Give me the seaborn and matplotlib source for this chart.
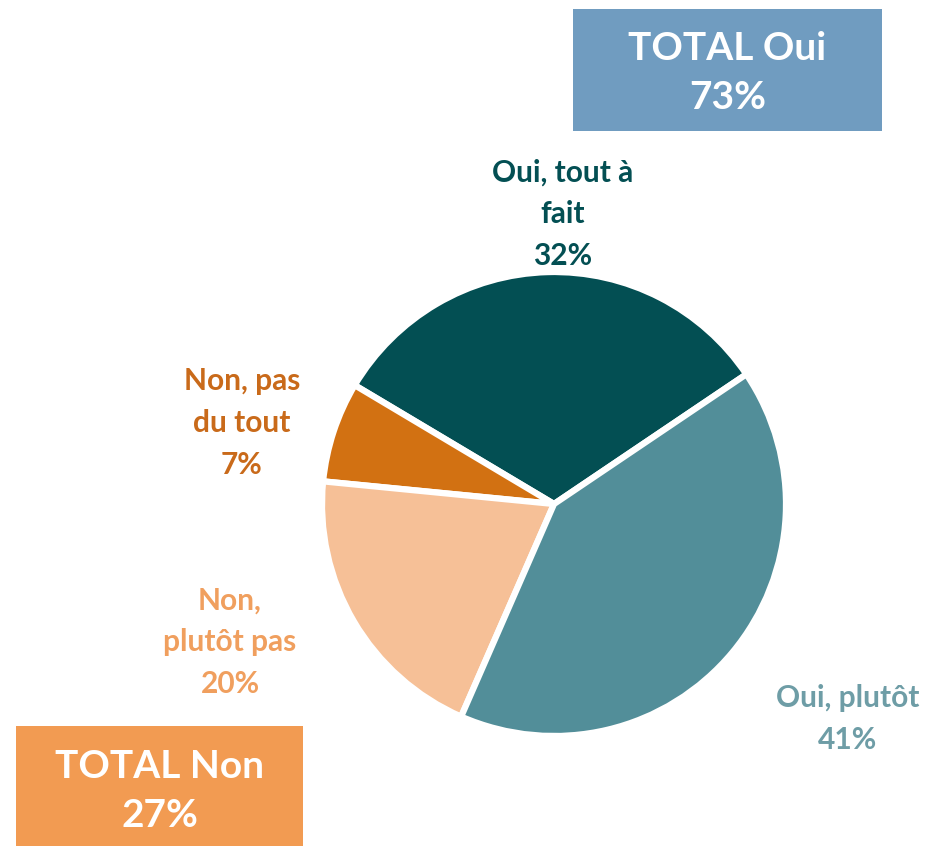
import matplotlib
matplotlib.use("Agg")
import matplotlib.pyplot as plt
from matplotlib.patches import Rectangle
import seaborn as sns

# slices in drawing order (counter-clockwise from the upper right)
categories = ["Oui, tout à\nfait", "Non, pas\ndu tout", "Non,\nplutôt pas", "Oui, plutôt"]
shares = [32, 7, 20, 41]
slice_colors = ["#034F53", "#D27112", "#F6C097", "#528E99"]
label_colors = ["#034F53", "#C96A1A", "#F09F5E", "#6E9DA6"]

totals_labels = ["TOTAL Oui", "TOTAL Non"]
totals_values = [73, 27]
totals_colors = ["#709CC0", "#F29B52"]

W, H = 932, 846

sns.set_theme(style="white")
plt.rcParams["font.family"] = ["Lato", "DejaVu Sans"]

fig = plt.figure(figsize=(W / 100, H / 100), dpi=100)
ax = fig.add_axes([0, 0, 1, 1])

cx, cy, r = 554, H - 504, 232
ax.pie(
    shares,
    colors=slice_colors,
    startangle=34,
    counterclock=True,
    center=(cx, cy),
    radius=r,
    explode=[0, 0, 0, 0.025],
    wedgeprops=dict(edgecolor="white", linewidth=4.5),
    frame=True,
)
ax.set_xlim(0, W)
ax.set_ylim(0, H)
ax.set_aspect("equal")
ax.axis("off")

# label positions (pixel coords from top)
label_pos = [(563, 214), (242, 423), (230, 642), (848, 719)]
for cat, val, col, (x, y) in zip(categories, shares, label_colors, label_pos):
    ax.text(x, H - y, f"{cat}\n{val}%", ha="center", va="center",
            fontsize=21.5, fontweight="bold", color=col, linespacing=1.6)

# total boxes
boxes = [(573, 9, 309, 122), (16, 726, 287, 125)]
text_y = [73, 791]
for lab, val, col, (x0, y0, w, h), ty in zip(totals_labels, totals_values, totals_colors, boxes, text_y):
    ax.add_patch(Rectangle((x0, H - y0 - h), w, h, facecolor=col, edgecolor="none", clip_on=False))
    ax.text(x0 + w / 2, H - ty, f"{lab}\n{val}%",
            ha="center", va="center", fontsize=28, fontweight="bold",
            color="white", linespacing=1.5)

fig.savefig("out.png", dpi=100)
